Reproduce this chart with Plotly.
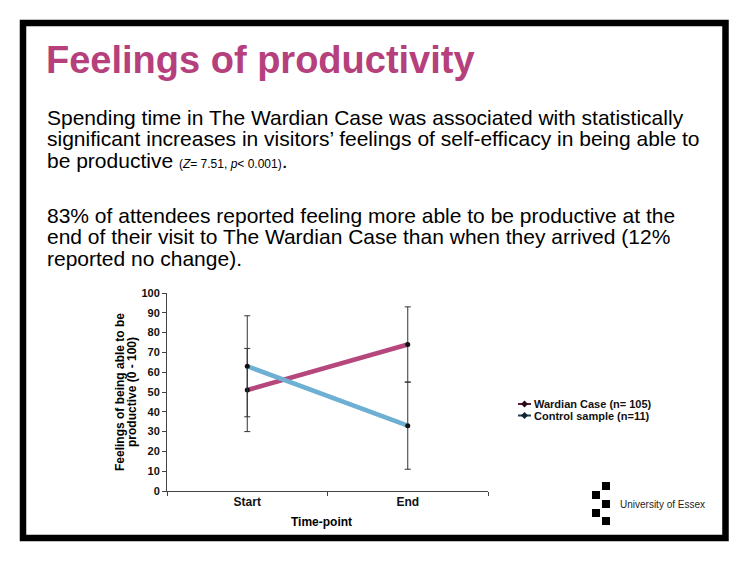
import plotly.graph_objects as go

# ---------------- data ----------------
timepoints = ["Start", "End"]
wardian_mean = [51, 74]
wardian_err = [21, 19]
control_mean = [63, 33]
control_err = [25.5, 22]
series_names = ["Wardian Case (n= 105)", "Control sample (n=11)"]
y_ticks = [0, 10, 20, 30, 40, 50, 60, 70, 80, 90, 100]

W, H = 750, 562
L, R, T, B = 167, 488, 293, 491   # plot area in pixels
PW, PH = R - L, B - T


def px(x):
    return (x - L) / PW


def py(y):
    return (B - y) / PH


PINK = "#b5477d"
BLUE = "#6db0d4"
FONT = "Liberation Sans"

fig = go.Figure()

fig.add_trace(go.Scatter(
    x=timepoints, y=wardian_mean, name=series_names[0], mode="lines+markers",
    line=dict(color=PINK, width=4.5),
    marker=dict(color="#111", size=5, symbol="circle"),
    error_y=dict(type="data", array=wardian_err, color="#333", thickness=1, width=3),
    showlegend=False))
fig.add_trace(go.Scatter(
    x=timepoints, y=control_mean, name=series_names[1], mode="lines+markers",
    line=dict(color=BLUE, width=4.5),
    marker=dict(color="#111", size=5, symbol="circle"),
    error_y=dict(type="data", array=control_err, color="#333", thickness=1, width=3),
    showlegend=False))

shapes = []
# outer black frame
shapes.append(dict(type="rect", xref="paper", yref="paper",
                   x0=px(23), x1=px(725.5), y0=py(23), y1=py(538),
                   line=dict(color="black", width=6.5), fillcolor="rgba(0,0,0,0)", layer="below"))
# University of Essex logo squares
for (sx, sy) in [(602, 482), (592, 491), (602, 500), (592, 509), (602, 517)]:
    shapes.append(dict(type="rect", xref="paper", yref="paper",
                       x0=px(sx), x1=px(sx + 8), y0=py(sy), y1=py(sy + 8),
                       line=dict(width=0), fillcolor="black"))

annotations = []


def text(x, y, s, size, color="black", bold=False, xanchor="left", angle=0, family=FONT):
    annotations.append(dict(
        x=px(x), y=py(y), xref="paper", yref="paper", text=s,
        showarrow=False, xanchor=xanchor, yanchor="middle", textangle=angle,
        font=dict(family=family, size=size, color=color, weight=("bold" if bold else "normal"))))


text(44, 60, "Feelings of productivity", 38, color="#b5407c", bold=True)
body1 = [
    "Spending time in The Wardian Case was associated with statistically",
    "significant increases in visitors\u2019 feelings of self-efficacy in being able to",
    "be productive <span style='font-size:12px'>(<i>Z</i>= 7.51, <i>p</i>&lt; 0.001)</span>.",
]
for i, s in enumerate(body1):
    text(45, 117 + i * 21.7, s, 21)
body2 = [
    "83% of attendees reported feeling more able to be productive at the",
    "end of their visit to The Wardian Case than when they arrived (12%",
    "reported no change).",
]
for i, s in enumerate(body2):
    text(45, 215 + i * 21.7, s, 21)

# axis titles
text(120, 392, "Feelings of being able to be", 12, bold=True, xanchor="center", angle=-90)
text(132, 392, "productive (0 - 100)", 12, bold=True, xanchor="center", angle=-90)
text(321, 522, "Time-point", 12, bold=True, xanchor="center")

# legend (drawn as annotations + small symbol shapes)
leg_cols = [("#5a1d38", "#2a0a18"), ("#1f3f52", "#0f2530")]
for i, name in enumerate(series_names):
    yy = 404 + i * 11.5
    lc, mc = leg_cols[i]
    shapes.append(dict(type="line", xref="paper", yref="paper",
                       x0=px(518), x1=px(531), y0=py(yy), y1=py(yy),
                       line=dict(color=lc, width=2)))
    cx = 524.5
    d = 3.5
    shapes.append(dict(type="path", xref="paper", yref="paper",
                       path=(f"M {px(cx - d)} {py(yy)} L {px(cx)} {py(yy - d)} "
                             f"L {px(cx + d)} {py(yy)} L {px(cx)} {py(yy + d)} Z"),
                       line=dict(width=0), fillcolor=mc))
    text(532, yy, name, 11, color="#111", bold=True)

# logo text
text(618, 504, "University of Essex", 10, color="#222")

fig.update_layout(
    width=W, height=H,
    margin=dict(l=L, r=W - R, t=T, b=H - B, pad=0),
    paper_bgcolor="white", plot_bgcolor="white",
    shapes=shapes, annotations=annotations,
    showlegend=False,
    xaxis=dict(range=[-0.5, 1.5], showline=True, linecolor="#444", linewidth=1,
               ticks="outside", tickson="boundaries", ticklen=4, tickcolor="#444",
               showgrid=False, zeroline=False, fixedrange=True,
               tickfont=dict(family=FONT, size=12, color="#111", weight="bold")),
    yaxis=dict(range=[0, 100], tickvals=y_ticks, showline=True, linecolor="#444", linewidth=1,
               ticks="outside", ticklen=4, tickcolor="#444", showgrid=False, zeroline=False,
               tickfont=dict(family=FONT, size=11, color="#111", weight="bold")),
)

fig.write_html("out.html")
